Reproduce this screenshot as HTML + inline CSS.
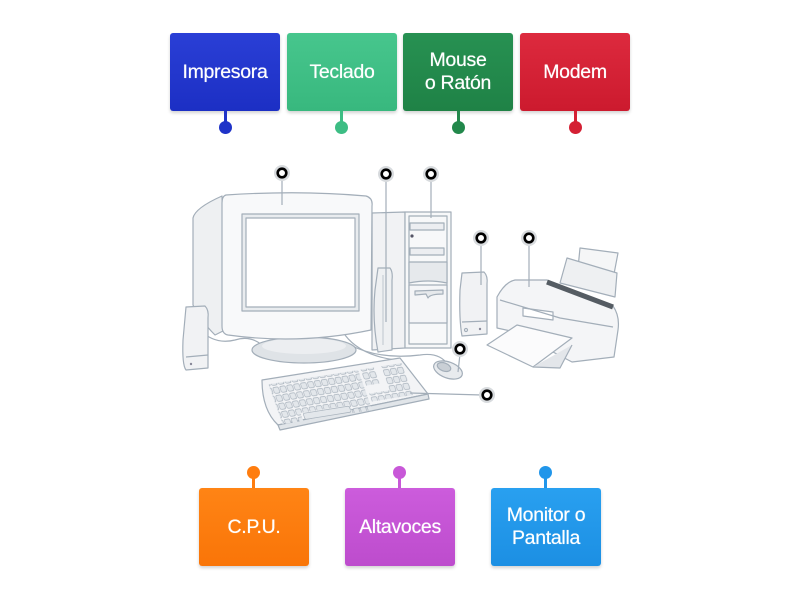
<!DOCTYPE html>
<html><head><meta charset="utf-8">
<style>
html,body{margin:0;padding:0;background:#fff;}
body{width:800px;height:600px;position:relative;overflow:hidden;font-family:"Liberation Sans",sans-serif;}
.box{position:absolute;width:110px;height:78px;border-radius:3px;color:#fff;display:flex;align-items:center;justify-content:center;text-align:center;font-size:19.5px;line-height:23px;box-shadow:0 2px 3px rgba(0,0,0,0.18);letter-spacing:-0.3px;text-shadow:0 0 0.6px #fff;}
.stem{position:absolute;width:3px;height:11px;}
.dot{position:absolute;width:13px;height:13px;border-radius:50%;}
svg{position:absolute;left:0;top:0;}
</style></head><body>

<svg width="800" height="600" viewBox="0 0 800 600">
<defs>
<pattern id="keys" width="7.5" height="8" patternUnits="userSpaceOnUse">
<rect x="0.6" y="0.8" width="6" height="6" rx="1.5" fill="#e3e7eb" stroke="#a9b3bd" stroke-width="0.7"/>
</pattern>
</defs>
<g stroke="#a3aeb9" stroke-width="1.2" fill="#f3f4f6" stroke-linejoin="round">
<!-- cables -->
<path d="M200 330 Q215 345 235 340 Q250 335 262 345" fill="none"/>
<path d="M350 345 Q380 360 420 355 Q440 352 448 365" fill="none"/>
<path d="M345 335 Q360 355 395 360" fill="none"/>
<!-- tower side -->
<path d="M372 213 L405 212 L405 348 L372 350 Z" fill="#f1f2f4"/>
<!-- tower front -->
<rect x="405" y="212" width="46" height="136" fill="#f7f8f9"/>
<rect x="409" y="216" width="38" height="128" fill="#f7f8f9"/>
<rect x="410" y="223" width="34" height="7" fill="#eceef1"/>
<circle cx="412" cy="236" r="1.6" fill="#556" stroke="none"/>
<rect x="410" y="248" width="34" height="7" fill="#eceef1"/>
<path d="M409 262 L447 262 L447 283 Q428 279 409 283 Z" fill="#e6e9ec"/>
<path d="M409 285 L447 285 L447 323 L409 323 Z" fill="#f4f5f7"/>
<path d="M415 291 L443 290 L443 294 Q430 294 428 298 L426 294 L415 295 Z" fill="#e6e9ec"/>
<!-- speaker behind monitor near tower -->
<path d="M378 268 L390 268 Q393 272 392 280 L392 350 L378 352 Q372 320 375 290 Z" fill="#eef0f2"/>
<path d="M383 275 L383 345" fill="none" stroke="#c6cdd4"/>
<!-- monitor back -->
<path d="M193 218 Q195 208 222 196 L225 330 L215 335 Q200 320 193 305 Z" fill="#eef0f2"/>
<path d="M372 213 L372 300" fill="none"/>
<!-- monitor base -->
<ellipse cx="304" cy="350" rx="52" ry="13" fill="#dfe3e7"/>
<ellipse cx="304" cy="346" rx="42" ry="8" fill="#eceef1" stroke="none"/>
<!-- monitor front -->
<path d="M226 195 Q300 190 366 196 Q373 198 372 206 L371 330 Q300 345 228 335 Q222 334 222 326 L222 203 Q222 196 226 195 Z" fill="#f8f9fa"/>
<rect x="242" y="214" width="117" height="97" fill="#e9ecef"/>
<rect x="246" y="218" width="109" height="89" fill="#fff"/>
<!-- left speaker -->
<path d="M186 307 L205 306 Q209 310 208 318 L208 368 L186 370 Q182 365 183 340 Z" fill="#f1f2f4"/>
<path d="M186 357 L208 355" fill="none"/>
<circle cx="191" cy="364" r="1.2" fill="#889" stroke="none"/>
<!-- right speaker -->
<path d="M462 273 L484 272 Q488 276 487 284 L487 334 L462 336 Q459 320 460 290 Z" fill="#f1f2f4"/>
<path d="M462 322 L487 321" fill="none"/>
<circle cx="466" cy="330" r="1.5" fill="#fff"/>
<circle cx="480" cy="329" r="1.2" fill="#889" stroke="none"/>
<!-- printer -->
<path d="M580 248 L618 253 L614 274 L578 268 Z" fill="#f5f6f7"/>
<path d="M567 258 L617 273 L615 297 L560 283 Z" fill="#eef0f2"/>
<path d="M497 297 Q505 282 515 280 L547 280 L613 306 Q620 316 618 330 L614 357 L572 362 L515 332 L497 328 Z" fill="#f4f5f7"/>
<path d="M547 282 L613 307" fill="none" stroke="#555c63" stroke-width="5"/>
<path d="M523 308 L553 312 L553 320 L523 316 Z" fill="#fff"/>
<path d="M500 300 Q540 312 560 318 L613 327" fill="none"/>
<path d="M487 345 L517 325 L572 338 L533 367 Z" fill="#fbfbfc"/>
<path d="M533 367 L560 368 L572 345" fill="#e3e6ea"/>
<!-- keyboard -->
<path d="M262 380 L400 358 L428 394 L278 425 Q262 410 262 380 Z" fill="#f3f4f6"/>
<path d="M278 425 L428 394 L429 399 L280 430 Z" fill="#e1e5e9"/>
<g transform="matrix(0.92,-0.1467,0.3556,1,262,380)" stroke="none">
<rect x="5" y="5" width="97.5" height="32" fill="url(#keys)"/>
<rect x="105" y="5" width="15" height="16" fill="url(#keys)"/>
<rect x="105" y="29" width="22.5" height="8" fill="url(#keys)"/>
<rect x="127.5" y="5" width="22.5" height="32" fill="url(#keys)"/>
<rect x="5" y="37" width="22.5" height="8" fill="url(#keys)"/>
<rect x="30" y="37.8" width="50" height="6" rx="1.5" fill="#e3e7eb" stroke="#a9b3bd" stroke-width="0.7"/>
<rect x="80" y="37" width="22.5" height="8" fill="url(#keys)"/>
</g>
<!-- mouse -->
<ellipse cx="448" cy="370" rx="15" ry="8" transform="rotate(20 448 370)" fill="#e8ebee"/>
<ellipse cx="444" cy="367" rx="7" ry="4" transform="rotate(20 444 367)" fill="#c9cfd5"/>
</g>
<!-- marker leader lines -->
<g stroke="#a3aeb9" stroke-width="1.2" fill="none">
<path d="M282 178 L282 205"/>
<path d="M386 179 L386 322"/>
<path d="M431 179 L431 218"/>
<path d="M481 243 L481 285"/>
<path d="M529 243 L529 287"/>
<path d="M460 354 L458 372"/>
<path d="M482 395 L410 393"/>
</g>
<!-- markers -->
<g>
<g transform="translate(282,173)"><circle r="8" fill="#d8dbde"/><circle r="4.3" fill="#fff" stroke="#000" stroke-width="2.6"/></g>
<g transform="translate(386,174)"><circle r="8" fill="#d8dbde"/><circle r="4.3" fill="#fff" stroke="#000" stroke-width="2.6"/></g>
<g transform="translate(431,174)"><circle r="8" fill="#d8dbde"/><circle r="4.3" fill="#fff" stroke="#000" stroke-width="2.6"/></g>
<g transform="translate(481,238)"><circle r="8" fill="#d8dbde"/><circle r="4.3" fill="#fff" stroke="#000" stroke-width="2.6"/></g>
<g transform="translate(529,238)"><circle r="8" fill="#d8dbde"/><circle r="4.3" fill="#fff" stroke="#000" stroke-width="2.6"/></g>
<g transform="translate(460,349)"><circle r="8" fill="#d8dbde"/><circle r="4.3" fill="#fff" stroke="#000" stroke-width="2.6"/></g>
<g transform="translate(487,395)"><circle r="8" fill="#d8dbde"/><circle r="4.3" fill="#fff" stroke="#000" stroke-width="2.6"/></g>
</g>
</svg>

<!-- top boxes -->
<div class="box" style="left:170px;top:33px;background:linear-gradient(#2a3fd6,#1c2fc4);">Impresora</div>
<div class="stem" style="left:224px;top:111px;background:#1f33c8;"></div>
<div class="dot" style="left:219px;top:121px;background:#1f33c8;"></div>

<div class="box" style="left:287px;top:33px;background:linear-gradient(#47c68d,#38b87e);">Teclado</div>
<div class="stem" style="left:340px;top:111px;background:#3dbd84;"></div>
<div class="dot" style="left:335px;top:121px;background:#3dbd84;"></div>

<div class="box" style="left:403px;top:33px;background:linear-gradient(#279152,#1f8246);">Mouse<br>o Ratón</div>
<div class="stem" style="left:457px;top:111px;background:#22884b;"></div>
<div class="dot" style="left:452px;top:121px;background:#22884b;"></div>

<div class="box" style="left:520px;top:33px;background:linear-gradient(#dd2a3e,#cc1a2e);">Modem</div>
<div class="stem" style="left:574px;top:111px;background:#d42034;"></div>
<div class="dot" style="left:569px;top:121px;background:#d42034;"></div>

<!-- bottom boxes -->
<div class="dot" style="left:247px;top:466px;background:#ff7d0f;"></div>
<div class="stem" style="left:252px;top:477px;background:#ff7d0f;"></div>
<div class="box" style="left:199px;top:488px;background:linear-gradient(#ff8415,#f97508);">C.P.U.</div>

<div class="dot" style="left:393px;top:466px;background:#c858d8;"></div>
<div class="stem" style="left:398px;top:477px;background:#c858d8;"></div>
<div class="box" style="left:345px;top:488px;background:linear-gradient(#cc5cdc,#bd4ccd);">Altavoces</div>

<div class="dot" style="left:539px;top:466px;background:#2196ea;"></div>
<div class="stem" style="left:544px;top:477px;background:#2196ea;"></div>
<div class="box" style="left:491px;top:488px;background:linear-gradient(#29a0f0,#1c8fe3);">Monitor o<br>Pantalla</div>

</body></html>
